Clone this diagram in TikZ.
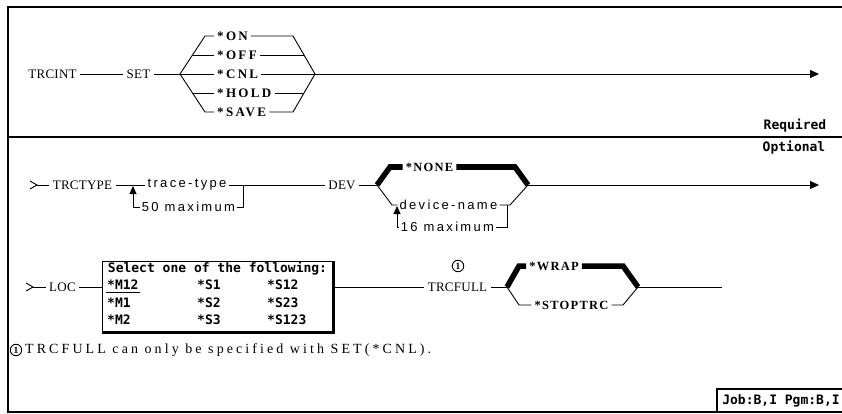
\documentclass[tikz,border=0pt]{standalone}
\usepackage{fontspec}
\setmainfont{Liberation Serif}
\newfontfamily\kwfont[LetterSpace=2]{Liberation Serif}
\newfontfamily\optfont[LetterSpace=18]{Liberation Serif}
\newfontfamily\deffont[LetterSpace=10]{Liberation Serif}
\newfontfamily\varfont[LetterSpace=18]{Liberation Sans}
\newfontfamily\notefont[LetterSpace=22]{Liberation Serif}
\newfontfamily\tagfont{DejaVu Sans Mono}
\usetikzlibrary{positioning,arrows.meta}

\begin{document}
\begin{tikzpicture}[
    x=1pt, y=-1pt,
    rail/.style={line width=0.9pt},
    thickbar/.style={line width=5.5pt},
    frameline/.style={line width=1.4pt},
    loopback/.style={rail,-{Triangle[length=8pt,width=7pt]}},
    railend/.style={rail,-{Triangle[length=9pt,width=8pt]}},
    kw/.style={font=\kwfont\fontsize{13}{16}\selectfont,inner sep=3.5pt},
    opt/.style={font=\optfont\bfseries\fontsize{13}{15}\selectfont,inner sep=3pt},
    defopt/.style={font=\deffont\bfseries\fontsize{12.5}{15}\selectfont,inner sep=3pt},
    var/.style={font=\varfont\fontsize{13}{15}\selectfont,inner sep=2pt},
    tag/.style={font=\tagfont\bfseries\fontsize{13}{15}\selectfont,inner sep=1pt},
    fntext/.style={font=\notefont\fontsize{14}{16}\selectfont,inner sep=0pt},
    fnote/.style={draw,circle,rail,inner sep=0pt,minimum size=11.5pt,font=\bfseries\fontsize{9.5}{10}\selectfont}
  ]
  \useasboundingbox (0,0) rectangle (842,414);

  % frame
  \draw[frameline] (842,7) -- (8,7) -- (8,412) -- (842,412);
  \draw[frameline] (8,137) -- (842,137);
  \node[tag] (required) at (795,126) {Required};
  \node[tag] (optional) at (794,148) {Optional};

  % TRCINT
  \node[kw] (trcint) at (52.5,74) {TRCINT};
  \node[kw] (set) at (138.5,74) {SET};
  \coordinate (b1l) at (180,74);
  \coordinate (b1r) at (315,74);
  \coordinate (exit1) at (819,74);
  \node[opt,anchor=west] (on) at (214,36) {*ON};
  \node[opt,anchor=west] (off) at (214,55) {*OFF};
  \node[opt,anchor=west] (cnl) at (214,74) {*CNL};
  \node[opt,anchor=west] (hold) at (214,93) {*HOLD};
  \node[opt,anchor=west] (save) at (214,112) {*SAVE};
  \draw[rail] (trcint) -- (set);
  \draw[rail] (set) -- (b1l);
  \draw[rail] (on.west) -- (205,36) -- (b1l) -- (205,112) -- (save.west);
  \draw[rail] (off.west) -- (192.5,55);
  \draw[rail] (hold.west) -- (192.5,93);
  \draw[rail] (cnl.west) -- (b1l);
  \draw[rail] (on.east) -- (293,36) -- (b1r) -- (293,112) -- (save.east);
  \draw[rail] (off.east) -- (304,55);
  \draw[rail] (hold.east) -- (304,93);
  \draw[rail] (cnl.east) -- (b1r);
  \draw[railend] (b1r) -- (exit1);

  % TRCTYPE and DEV
  \coordinate (in2) at (37,185);
  \draw[rail] (30,181) -- (in2) -- (30,189);
  \node[kw] (trctype) at (82.5,185) {TRCTYPE};
  \node[var] (tracetype) at (187,185) {trace-type};
  \node[var] (max50) at (188.5,207) {50 maximum};
  \node[kw] (dev) at (342,185) {DEV};
  \draw[rail] (in2) -- (trctype);
  \draw[rail] (trctype) -- (tracetype);
  \draw[rail] (tracetype) -- (dev);
  \draw[loopback] (max50.west) -| (133,186);
  \draw[rail] (max50.east) -| (243,185);
  \coordinate (b2l) at (377,185);
  \coordinate (b2r) at (528,185);
  \coordinate (exit2) at (819,185);
  \node[defopt] (none) at (429.5,167) {*NONE};
  \node[var] (devname) at (448.5,205) {device-name};
  \node[var] (max16) at (447.5,227) {16 maximum};
  \draw[rail] (dev) -- (b2l);
  \draw[thickbar] (b2l) -- (390,167) -- (none.west);
  \draw[thickbar] (none.east) -- (515,167) -- (b2r);
  \draw[rail] (b2l) -- (392,205) -- (devname.west);
  \draw[rail] (devname.east) -- (510,205) -- (b2r);
  \draw[loopback] (max16.west) -| (397,206);
  \draw[rail] (max16.east) -| (507,205);
  \draw[railend] (b2r) -- (exit2);

  % LOC and TRCFULL
  \coordinate (in3) at (33,287);
  \draw[rail] (26,283) -- (in3) -- (26,291);
  \node[kw] (loc) at (62.5,287) {LOC};
  \node[draw,rail,minimum width=231pt,minimum height=71pt,inner sep=0pt] (locbox) at (217.5,296.5) {};
  \draw[line width=2.2pt] (locbox.north east) -- (locbox.south east) -- (locbox.south west);
  \node[tag] (selhead) at (217.5,269) {Select one of the following:};
  \node[tag,anchor=west] (m12) at (106,285) {*M12};
  \node[tag,anchor=west] (m1) at (106,303) {*M1};
  \node[tag,anchor=west] (m2) at (106,320) {*M2};
  \node[tag,anchor=west] (s1) at (196,285) {*S1};
  \node[tag,anchor=west] (s2) at (196,303) {*S2};
  \node[tag,anchor=west] (s3) at (196,320) {*S3};
  \node[tag,anchor=west] (s12) at (266,285) {*S12};
  \node[tag,anchor=west] (s23) at (266,303) {*S23};
  \node[tag,anchor=west] (s123) at (266,320) {*S123};
  \draw[rail] ([yshift=-3pt]m12.base west) -- ([yshift=-3pt]m12.base east);
  \node[kw] (trcfull) at (457.5,287) {TRCFULL};
  \node[fnote] (note1) at (458,266) {1};
  \coordinate (b3l) at (507,287);
  \coordinate (b3r) at (638,287);
  \coordinate (exit3) at (722,287);
  \node[defopt] (wrap) at (554,266) {*WRAP};
  \node[defopt] (stoptrc) at (571.5,305) {*STOPTRC};
  \draw[rail] (in3) -- (loc);
  \draw[rail] (loc) -- (loc -| locbox.west);
  \draw[rail] (locbox.east |- loc) -- (trcfull);
  \draw[rail] (trcfull) -- (b3l);
  \draw[thickbar] (b3l) -- (519,266) -- (wrap.west);
  \draw[thickbar] (wrap.east) -- (623,266) -- (b3r);
  \draw[rail] (b3l) -- (519,305) -- (stoptrc.west);
  \draw[rail] (stoptrc.east) -- (623,305) -- (b3r);
  \draw[rail] (b3r) -- (exit3);

  % footnote
  \node[fnote] (note2) at (16,350) {1};
  \node[fntext,anchor=west] (notetext) at (25,350) {TRCFULL can only be specified with SET(*CNL).};
  \node[tag] (jobtag) at (781,401) {Job:B,I Pgm:B,I};
  \draw[line width=1.8pt] (842,389) -| (717,412);
\end{tikzpicture}
\end{document}
